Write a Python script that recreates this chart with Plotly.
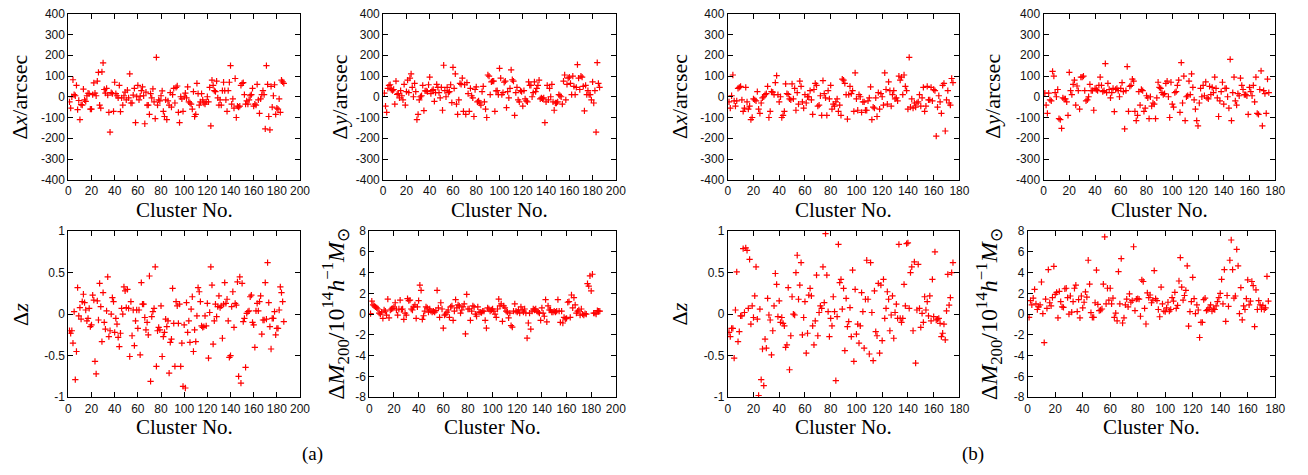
import plotly.graph_objects as go

W, H = 1308, 475

# ---------------- data: panel (a) ----------------
a_dx = [
    -25, -55, 0, 82, 10, 5, 55, -62, -18, -110,
    -38, -40, 37, -15, -22, 5, 17, 15, -60, -60,
    10, 67, 18, 5, 75, 118, -40, -55, 120, 163,
    35, 18, 40, 8, -75, -170, 20, 15, -70, 70,
    15, 5, -5, 55, -72, -5, -40, 5, 22, -15,
    32, -5, 110, -30, -30, 8, 40, -125, 0, 55,
    -15, 3, 30, 48, 5, -130, 22, -40, -40, -85,
    15, -5, 38, -25, -105, 190, -40, -15, -20, 5,
    28, -70, -95, -15, -110, -20, -40, 20, -50, 10,
    40, -30, 45, 52, -75, -125, 0, -10, -70, 0,
    18, -5, 48, -25, -30, -35, -60, 25, -95, -85,
    65, 15, -40, -25, 15, -15, -30, -35, -25, 0,
    -25, 45, -140, 80, 55, 30, 25, 75, -5, -40,
    -15, -40, 30, 70, 30, -15, -70, 30, 70, 150,
    -35, -10, -55, 88, -100, -45, -50, -45, 55, 65,
    68, 10, -35, -20, -35, -15, 5, 10, 40, -45,
    -35, -40, 60, -15, -80, -10, 10, 30, 10, -155,
    150, 60, -95, -160, 50, -50, 5, 58, -85, -55,
    -60, -10, -75, 80, 72, 65,
]

a_dy = [
    18, -45, -75, 40, 55, 58, 35, 30, 35, -35,
    75, 12, 15, -5, 30, 5, -15, 60, -40, 25,
    80, 20, 90, 110, 45, 0, 65, 25, -110, -85,
    -15, 0, 5, 55, -67, 28, 28, 25, 58, 95,
    15, 30, 35, -22, 20, 60, 45, 20, -5, 45,
    -65, 152, 30, 0, 45, 20, 25, 58, -28, 142,
    40, 110, -35, -85, -15, 65, 60, 90, -70, 58,
    -85, 68, 15, -70, 40, 5, -5, -95, 35, 48,
    -25, -20, -30, -40, 25, 50, -25, -60, -100, 105,
    100, 10, 72, 75, 75, -70, 28, 30, 10, 137,
    90, 10, 20, 70, 75, -52, 25, -5, 40, 130,
    82, 75, -90, 20, 45, -15, -25, 30, 25, -45,
    30, -10, -20, -25, 72, 55, 55, 0, 20, 72,
    25, 40, 55, 80, -10, -5, -10, -5, -125, -25,
    55, -15, 40, 0, 60, -25, -65, -30, -30, -25,
    10, 5, 0, -35, 75, 105, -15, 60, 90, 95,
    65, 10, 100, 50, 10, 45, 155, 90, 35, 100,
    95, 50, -68, 55, 10, 30, 10, 10, -15, 72,
    -30, 30, -170, 165, 65, 45,
]

a_dz = [
    -0.2, -0.23, -0.2, -0.35, 0.03, -0.79, -0.45, 0.32, -0.02, 0.08,
    -0.06, 0.15, 0.24, 0.14, 0.05, -0.08, -0.05, 0.07, -0.15, -0.13,
    0.23, 0.17, -0.57, -0.72, 0.16, -0.07, 0.37, 0.09, -0.33, 0.26,
    -0.1, -0.18, 0.04, 0.45, -0.27, -0.2, 0.0, 0.2, 0.15, -0.22,
    -0.05, -0.12, -0.28, -0.39, -0.23, 0.07, 0.0, 0.33, 0.28, 0.08,
    0.3, 0.07, -0.51, 0.15, -0.26, 0.05, -0.38, -0.08, 0.05, -0.17,
    0.05, -0.49, 0.38, 0.12, 0.12, -0.04, -0.19, -0.1, -0.25, 0.46,
    -0.81, -0.03, 0.03, 0.07, 0.57, -0.63, -0.2, -0.16, -0.19, 0.1,
    -0.51, -0.27, -0.22, -0.06, -0.15, -0.08, -0.71, -0.34, -0.3, 0.31,
    -0.11, -0.63, 0.15, 0.1, -0.11, 0.12, -0.63, -0.35, -0.87, -0.13,
    -0.89, 0.14, -0.22, -0.08, -0.34, 0.06, 0.21, -0.45, -0.19, -0.33,
    -0.02, 0.32, 0.27, 0.15, -0.14, -0.16, -0.15, -0.02, -0.14, 0.13,
    -0.53, 0.02, 0.57, 0.35, -0.36, -0.08, 0.12, -0.03, 0.09, 0.22,
    0.08, 0.1, -0.29, 0.12, 0.38, 0.13, 0.18, -0.08, -0.52, -0.5,
    0.09, 0.27, -0.16, 0.13, 0.11, 0.39, -0.75, 0.45, -0.83, 0.37,
    -0.09, -0.05, -0.64, 0.01, 0.03, 0.04, 0.21, 0.23, -0.1, -0.13,
    -0.4, 0.04, 0.13, 0.04, 0.15, 0.22, -0.24, -0.07, -0.07, 0.38,
    -0.06, 0.62, 0.14, -0.15, -0.42, -0.05, -0.05, 0.03, -0.25, -0.17,
    -0.17, 0.05, 0.33, 0.26, 0.15, -0.09,
]

a_dm = [
    0.05, 1.25, 0.9, 0.8, 0.7, 0.6, 0.5, 0.1, 0.0, 0.2,
    -0.4, 0.4, 0.3, -0.1, 1.45, -0.35, 0.4, 0.5, 0.55, 0.7,
    1.1, 0.4, -0.1, 0.5, 1.35, 0.45, 0.5, -0.5, 0.1, -0.1,
    1.5, 1.3, 1.35, 0.5, 0.4, 0.7, 0.9, -0.4, 0.7, 1.3,
    2.8, 2.3, -0.5, -0.15, 0.3, 0.7, 0.6, 0.2, 0.5, 0.3,
    0.2, 0.3, 0.2, 0.35, 2.3, 0.6, -0.3, 1.1, 0.5, -1.35,
    -0.1, 0.0, 0.2, 0.4, -0.3, 0.7, 0.8, -0.6, 0.3, 1.4,
    0.6, 0.9, 0.8, 0.1, 0.4, 0.7, 1.0, -1.9, 1.9, 0.5,
    0.5, -0.6, 0.3, 0.8, 0.7, 0.0, -0.2, 0.7, 0.2, 0.2,
    0.15, 0.3, 0.3, -0.6, -1.35, 0.6, 0.5, 0.3, 0.4, 0.5,
    0.3, 0.0, -0.3, 0.5, 1.45, 0.8, 1.0, -0.7, 0.8, 0.6,
    0.3, 0.2, -0.35, 0.1, -1.1, -1.25, 0.3, 1.0, 0.3, 0.2,
    0.4, 0.1, 0.7, 0.4, 0.2, 0.5, 0.1, -2.3, -0.85, 0.1,
    -1.45, 0.3, 0.5, 0.4, 0.5, 0.3, 0.2, 0.1, -0.6, 0.6,
    0.1, -0.2, 1.4, -0.75, 0.8, 0.4, 0.4, 0.2, 0.2, 0.3,
    0.2, 0.3, 1.4, 0.3, -0.8, 0.3, -0.85, -0.3, -0.45, -0.4,
    1.15, 1.2, -0.3, 1.85, 0.6, 1.6, 0.9, 0.1, 0.3, 0.4,
    -0.1, 0.5, 0.0, -0.1, 0.05, 0.0, 2.95, 2.7, 3.7, 2.25,
    3.85, 0.1, 0.1, 0.0, 0.35, 0.3, 0.3,
]

# ---------------- data: panel (b) ----------------
b_dx = [
    -25, -55, 5, 105, -20, -45, -20, 40, 45, 50,
    -15, -70, -55, 45, -25, -60, -45, -110, -100, -10,
    -15, -20, 25, -60, -80, -30, -5, 0, 10, 15,
    50, -100, -70, 25, 22, 10, 68, 102, 10, -25,
    0, -100, -90, -70, 62, 15, 12, -10, -15, 62,
    -10, 40, -65, 20, -35, 75, 50, -25, -55, 10,
    -30, 0, 0, 30, -15, -85, 35, 65, 55, -45,
    -40, 5, -90, 78, 15, -5, -90, 30, -10, 55,
    -60, -35, -45, -25, -10, -70, -40, -90, 85, 80,
    65, 10, -108, 10, 50, 15, 30, -70, 115, -10,
    -65, 10, 0, -75, -25, -25, -65, -65, -20, -5,
    48, -110, -50, -55, -5, -95, 20, -60, 15, 0,
    -40, 115, 35, -35, 72, 30, -45, 10, 30, -10,
    -5, -20, 100, 80, 95, 10, 105, 50, 30, -60,
    190, -50, -10, -55, -30, -50, -30, -25, 10, -45,
    -5, 45, -70, -45, 50, -15, -15, 45, -20, 35,
    30, -190, -50, 5, -25, -80, 55, 65, -165, -15,
    30, -30, -40, 88, 68,
]

b_dy = [
    18, -40, -80, 18, -15, -20, 122, 100, 20, 0,
    35, -105, -110, -152, -5, -10, -10, -25, -90, 118,
    30, 10, 60, 80, -40, 52, 30, -60, 95, 95,
    100, 30, -20, -15, 0, 60, 30, 30, -65, 40,
    35, 30, 55, 95, 55, 25, 30, 160, 20, 65,
    35, -5, 20, 40, -72, 35, 40, 30, 0, 40,
    68, 25, -155, 30, 145, -70, 50, 55, 85, 75,
    -70, -115, -90, 25, -40, 35, 30, -70, -55, 5,
    -5, -105, 0, -45, -30, -35, -105, -5, 70, 45,
    40, 20, 10, 15, 65, 75, 0, -100, 70, -35,
    -50, 20, 25, 55, 80, -75, 165, -30, 100, -115,
    0, 5, 75, 10, 110, 45, -15, -60, -115, -140,
    -30, 40, 0, 55, 5, 72, -5, -10, 50, 10,
    45, 20, 95, 40, -5, -95, -20, 25, 70, -35,
    40, 40, 0, -55, 180, -115, 20, 95, -20, -40,
    15, 5, 90, 55, 35, 10, 10, 5, -85, 45,
    25, 5, 55, -25, 95, -80, -85, 35, 125, -140,
    30, 15, -80, 85, 20,
]

b_dz = [
    -0.22, -0.27, -0.17, -0.17, -0.53, 0.05, 0.51, -0.33, -0.21, -0.02,
    -0.02, 0.79, 0.02, 0.8, 0.77, 0.07, 0.66, -0.12, 0.1, -0.04,
    0.22, 0.57, -0.06, -0.98, 0.06, -0.79, -0.42, -0.86, -0.3, -0.41,
    0.19, -0.01, -0.07, -0.49, -0.2, 0.1, 0.49, 0.36, -0.03, 0.16,
    -0.1, -0.04, -0.11, -0.14, -0.4, -0.37, 0.32, -0.67, -0.26, 0.21, 0.0,
    -0.01, 0.5, 0.71, 0.18, 0.35, 0.62, -0.25, -0.04, 0.15, -0.47,
    -0.23, 0.23, 0.31, 0.22, -0.14, -0.37, -0.08, 0.47, -0.26, 0.02, 0.1,
    0.07, 0.57, 0.14, 0.97, 0.47, 0.03, -0.27, -0.05, -0.14, 0.21,
    0.03, -0.8, -0.03, 0.84, 0.38, 0.42, 0.06, 0.31, -0.44, 0.19, -0.15,
    -0.09, 0.08, -0.27, 0.53, -0.57, 0.3, -0.24, -0.12, -0.35, -0.14,
    0.26, 0.03, -0.41, 0.18, 0.65, 0.18, -0.48, 0.62, 0.02, -0.56, 0.28,
    -0.21, -0.26, 0.37, -0.47, 0.35, -0.32, 0.42, -0.05, 0.07, 0.27,
    0.18, -0.2, -0.01, 0.22, -0.29, 0.02, 0.12, -0.05, 0.84, -0.05, -0.1,
    -0.05, 0.36, 0.1, 0.85, 0.86, 0.07, 0.5, 0.57, -0.2, 0.63,
    -0.59, 0.05, 0.6, 0.07, -0.16, 0.01, -0.1, 0.21, 0.05, 0.15,
    -0.02, 0.22, -0.08, 0.42, -0.03, 0.75, -0.07, -0.06, -0.05, -0.11,
    -0.27, -0.23, -0.12, -0.31, 0.04, 0.48, 0.11, 0.2, 0.5, 0.62,
]

b_dm = [
    -0.3, 1.3, 0.9, 1.55, 2.4, 1.0, 0.45, 0.7, 0.9, 3.1,
    0.05, -2.75, 1.45, 0.55, 4.3, 1.1, 0.8, 1.6, 4.6, 1.9,
    2.1, -0.35, 2.2, 1.2, 0.7, 0.65, 2.45, 2.5, 1.6, 0.0,
    1.75, 0.2, 1.2, 2.5, 2.8, 0.25, 1.4, -0.35, 1.75, 0.6,
    1.15, 2.15, 1.65, 5.2, 2.9, 0.15, -0.3, -0.3, 1.1, 4.25,
    0.95, 0.35, 0.4, 0.5, 2.9, 7.45, 1.0, 2.5, 1.35, 2.5,
    1.0, 1.55, -0.3, 0.1, -0.65, 4.1, 1.0, 5.35, -0.85, -0.35,
    0.9, 1.45, 0.7, 1.95, 1.15, 1.3, 6.5, 0.35, 1.45, 1.5,
    1.45, -0.2, 3.3, 3.15, 0.55, -0.95, 2.05, 1.6, 1.85, 1.1,
    1.35, 4.2, 1.5, 1.3, 0.45, -0.25, 2.6, 1.0, 0.3, 0.25,
    0.6, 1.15, 0.3, 0.45, 1.6, 1.25, 2.1, 0.55, 0.85, 3.2,
    5.45, 2.6, 1.35, 1.8, 2.3, 4.65, -1.15, 0.25, 1.2, 3.55,
    1.5, 0.05, 0.9, 0.4, -2.25, -0.8, -0.8, 1.4, 1.55, 0.35,
    0.45, 0.6, 0.9, 0.3, 0.5, 0.45, 0.8, 1.2, 1.6, 2.0,
    3.35, 1.0, 4.3, -0.7, 1.8, 0.75, 5.2, 7.15, 4.3, 1.55,
    1.75, 6.25, 4.65, 0.05, 2.55, -0.55, 0.8, 0.45, 1.5, 3.3,
    0.9, 1.25, 3.15, 2.75, -1.2, 2.35, 0.45, 1.3, 0.9, 0.5,
    0.85, 0.45, 0.6, 3.65, 1.25,
]

x_ticks_a = list(range(0, 201, 20))
x_ticks_b = list(range(0, 181, 20))
pos_ticks = [-400, -300, -200, -100, 0, 100, 200, 300, 400]
z_ticks = [-1, -0.5, 0, 0.5, 1]
z_labels = ["-1", "-0.5", "0", "0.5", "1"]
m_ticks = [-8, -6, -4, -2, 0, 2, 4, 6, 8]

TITLE_DX = "Δ<i>x</i>/arcsec"
TITLE_DY = "Δ<i>y</i>/arcsec"
TITLE_DZ = "Δ<i>z</i>"
TITLE_DM = "Δ<i>M</i><sub>200</sub>/10<sup>14</sup><i>h</i><sup>−1</sup><i>M</i><sub>⊙</sub>"
XTITLE = "Cluster No."

# ---------------- layout (pixel boxes) ----------------
panels = [
    # data, xticks, yticks, yticklabels, yrange, box(x0,x1,ytop,ybot), ytitle, ytitle_x, title size
    (a_dx, x_ticks_a, pos_ticks, None, (-400, 400), (66, 300, 7, 178), TITLE_DX, 17, 22),
    (a_dy, x_ticks_a, pos_ticks, None, (-400, 400), (384, 619, 7, 178), TITLE_DY, 340, 22),
    (a_dz, x_ticks_a, z_ticks, z_labels, (-1, 1), (66, 300, 231, 402), TITLE_DZ, 17, 22),
    (a_dm, x_ticks_a, m_ticks, None, (-8, 8), (370, 619, 231, 402), TITLE_DM, 336, 24),
    (b_dx, x_ticks_b, pos_ticks, None, (-400, 400), (732, 966, 7, 178), TITLE_DX, 684, 22),
    (b_dy, x_ticks_b, pos_ticks, None, (-400, 400), (1051, 1285, 7, 178), TITLE_DY, 1000, 22),
    (b_dz, x_ticks_b, z_ticks, z_labels, (-1, 1), (732, 966, 231, 402), TITLE_DZ, 683, 22),
    (b_dm, x_ticks_b, m_ticks, None, (-8, 8), (1035, 1285, 231, 402), TITLE_DM, 996, 24),
]

TICK_FONT = dict(family="Liberation Sans, Arial, sans-serif", size=12, color="#111")
SERIF = "Liberation Serif, Times New Roman, serif"

fig = go.Figure()
layout = dict(
    width=W, height=H,
    margin=dict(l=0, r=0, t=0, b=0),
    paper_bgcolor="white", plot_bgcolor="white",
    showlegend=False,
)
annotations = []

for i, (vals, xt, yt, ylab, yr, box, ytitle, ytx, tsize) in enumerate(panels, start=1):
    x0, x1, yt_px, yb_px = box
    xs = list(range(1, len(vals) + 1))
    xa = "x" if i == 1 else f"x{i}"
    ya = "y" if i == 1 else f"y{i}"
    fig.add_trace(go.Scatter(
        x=xs, y=vals, mode="markers", xaxis=xa, yaxis=ya,
        marker=dict(symbol="cross-thin", size=4.5, color="#ff0000",
                    line=dict(color="#ff0000", width=1.2)),
        hoverinfo="skip",
    ))
    common = dict(showline=True, linecolor="black", linewidth=1, mirror="ticks",
                  ticks="inside", ticklen=5, tickwidth=1, tickcolor="black",
                  showgrid=False, zeroline=False, tickfont=TICK_FONT)
    layout["xaxis" if i == 1 else f"xaxis{i}"] = dict(
        domain=[x0 / W, x1 / W], anchor=ya, range=[xt[0], xt[-1]],
        tickmode="array", tickvals=xt, ticktext=[str(v) for v in xt], **common)
    layout["yaxis" if i == 1 else f"yaxis{i}"] = dict(
        domain=[1 - yb_px / H, 1 - yt_px / H], anchor=xa, range=list(yr),
        tickmode="array", tickvals=yt,
        ticktext=ylab if ylab else [str(v) for v in yt], **common)
    # y title
    annotations.append(dict(
        text=ytitle, xref="paper", yref="paper",
        x=ytx / W, y=1 - ((yt_px + yb_px) / 2) / H,
        xanchor="center", yanchor="middle", textangle=-90, showarrow=False,
        font=dict(family=SERIF, size=tsize, color="black")))
    # x title
    annotations.append(dict(
        text=XTITLE, xref="paper", yref="paper",
        x=((x0 + x1) / 2) / W, y=1 - (yb_px + 31) / H,
        xanchor="center", yanchor="middle", showarrow=False,
        font=dict(family=SERIF, size=21, color="black")))

annotations.append(dict(text="(a)", xref="paper", yref="paper", x=313 / W, y=1 - 461 / H,
                        xanchor="center", yanchor="middle", showarrow=False,
                        font=dict(family=SERIF, size=19, color="black")))
annotations.append(dict(text="(b)", xref="paper", yref="paper", x=980 / W, y=1 - 461 / H,
                        xanchor="center", yanchor="middle", showarrow=False,
                        font=dict(family=SERIF, size=19, color="black")))

layout["annotations"] = annotations
fig.update_layout(**layout)
fig.write_html("out.html")
